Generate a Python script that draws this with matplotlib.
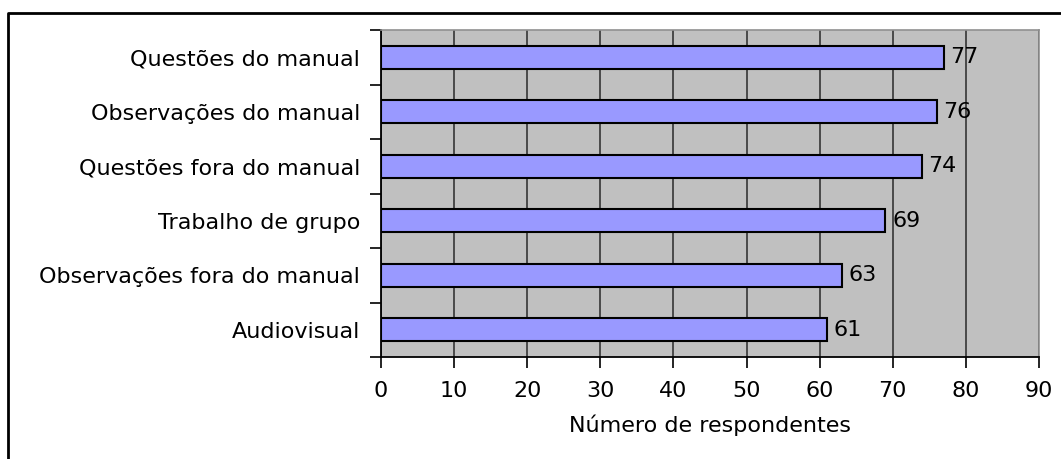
import matplotlib
matplotlib.use("Agg")
import matplotlib.pyplot as plt
from matplotlib.lines import Line2D
import numpy as np

categories = ["Questões do manual", "Observações do manual", "Questões fora do manual",
              "Trabalho de grupo", "Observações fora do manual", "Audiovisual"]
values = [77, 76, 74, 69, 63, 61]
x_ticks = [0, 10, 20, 30, 40, 50, 60, 70, 80, 90]
x_label = "Número de respondentes"

plt.rcParams["font.family"] = ["DejaVu Sans"]
FS = 16

W, H = 1061, 459
fig = plt.figure(figsize=(W / 100, H / 100), dpi=100)

# outer chart frame (top and left edges)
fig.lines.append(Line2D([8 / W, 8 / W, 1.0], [0, 1 - 13 / H, 1 - 13 / H],
                        transform=fig.transFigure, color="black", linewidth=2.0))

left, right, top, bottom = 381, 1039, 30, 357
ax = fig.add_axes([left / W, 1 - bottom / H, (right - left) / W, (bottom - top) / H])
ax.set_facecolor("#C0C0C0")

n = len(categories)
ypos = np.arange(n)[::-1]
ax.barh(ypos, values, height=0.43, color="#9999FF", edgecolor="black",
        linewidth=1.5, zorder=3)
for y, v in zip(ypos, values):
    ax.text(v + 0.9, y, str(v), va="center", ha="left", fontsize=FS, zorder=4)

ax.set_xlim(0, 90)
ax.set_ylim(-0.5, n - 0.5)
ax.set_xticks(x_ticks)
ax.set_xticklabels([str(t) for t in x_ticks], fontsize=FS)
ax.set_yticks(ypos)
ax.set_yticklabels(categories, fontsize=FS)
ax.set_yticks(np.arange(-0.5, n, 1.0), minor=True)
ax.tick_params(axis="y", which="major", length=0, pad=15)
ax.tick_params(axis="y", which="minor", length=8, width=1.2, color="black")
ax.tick_params(axis="x", which="major", length=8, width=1.2, color="black", pad=9)

ax.xaxis.grid(True, color="#404040", linewidth=1.3, zorder=1)
ax.set_axisbelow(True)
ax.set_xlabel(x_label, fontsize=FS, labelpad=10)

for side in ["top", "right"]:
    ax.spines[side].set_color("#909090")
    ax.spines[side].set_linewidth(1.2)
for side in ["left", "bottom"]:
    ax.spines[side].set_color("black")
    ax.spines[side].set_linewidth(1.3)

fig.savefig("out.png", dpi=100)
